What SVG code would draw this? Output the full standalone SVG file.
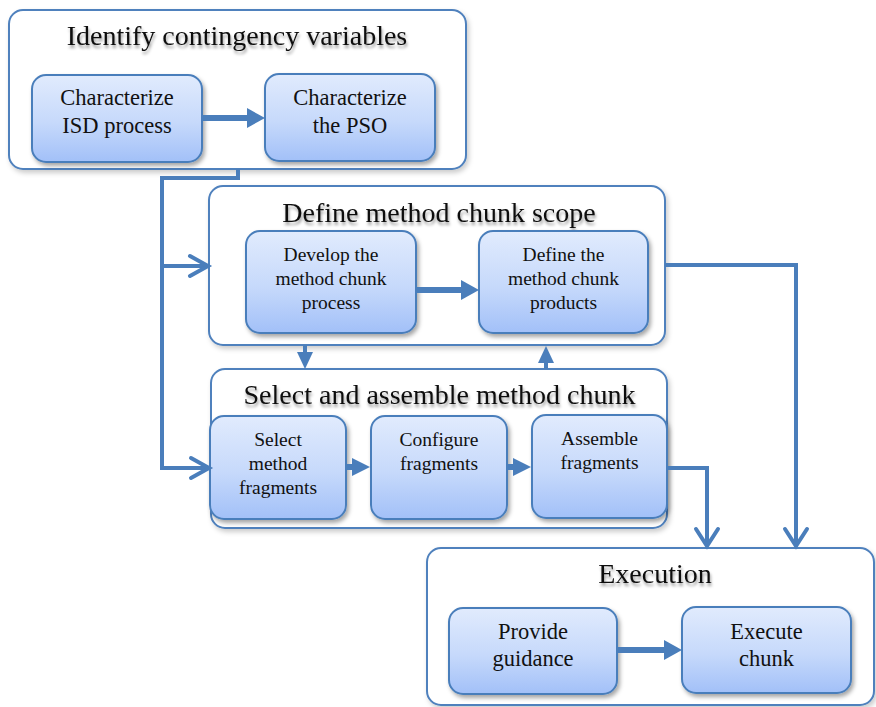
<svg xmlns="http://www.w3.org/2000/svg" width="876" height="707" viewBox="0 0 876 707">
  <defs>
    <linearGradient id="nodeFill" x1="0" y1="0" x2="0" y2="1">
      <stop offset="0" stop-color="#e1ebfd"/>
      <stop offset="0.55" stop-color="#c6d9fb"/>
      <stop offset="1" stop-color="#a2c0f8"/>
    </linearGradient>
    <filter id="nodeShadow" x="-10%" y="-10%" width="125%" height="130%">
      <feDropShadow dx="2" dy="3" stdDeviation="2" flood-color="#000" flood-opacity="0.35"/>
    </filter>
    <filter id="boxShadow" x="-5%" y="-5%" width="112%" height="115%">
      <feDropShadow dx="2" dy="3" stdDeviation="2.5" flood-color="#000" flood-opacity="0.2"/>
    </filter>
    <filter id="titleShadow" x="-5%" y="-30%" width="110%" height="170%">
      <feDropShadow dx="1" dy="3" stdDeviation="1.6" flood-color="#000" flood-opacity="0.4"/>
    </filter>
  </defs>
  <style>
    .box { fill: #ffffff; stroke: #4f81bd; stroke-width: 2; filter: url(#boxShadow); }
    .node { fill: url(#nodeFill); stroke: #4a7ebb; stroke-width: 2; filter: url(#nodeShadow); }
    .title { font-family: "Liberation Serif", "Times New Roman", serif; font-size: 28px; fill: #111; text-anchor: middle; filter: url(#titleShadow); }
    .label { font-family: "Liberation Serif", "Times New Roman", serif; fill: #111; text-anchor: middle; }
    .big { font-size: 22.5px; }
    .small { font-size: 19.5px; }
    .wire { fill: none; stroke: #4a7ebb; stroke-width: 4; stroke-linejoin: miter; stroke-linecap: butt; }
    .shaft { fill: none; stroke: #4a7ebb; stroke-width: 6; }
    .head { fill: #4a7ebb; }
    .chev { fill: none; stroke: #4a7ebb; stroke-width: 4; stroke-linecap: round; stroke-linejoin: miter; }
  </style>

  <!-- Phase: identify contingency variables -->
  <g id="identify-contingency-variables">
    <rect class="box" x="9" y="10" width="457" height="159" rx="14"/>
    <text class="title" x="237" y="45">Identify contingency variables</text>
  </g>
  <g id="characterize-isd-process">
    <rect class="node" x="32" y="75" width="170" height="87" rx="14"/>
    <text class="label big" x="117" y="105">Characterize</text>
    <text class="label big" x="117" y="133">ISD process</text>
  </g>
  <g id="characterize-pso">
    <rect class="node" x="265" y="74" width="170" height="87" rx="14"/>
    <text class="label big" x="350" y="105">Characterize</text>
    <text class="label big" x="350" y="133">the PSO</text>
  </g>

  <!-- Phase: define method chunk scope -->
  <g id="define-method-chunk-scope">
    <rect class="box" x="209" y="186" width="456" height="159" rx="14"/>
    <text class="title" x="439" y="222">Define method chunk scope</text>
  </g>
  <g id="develop-process">
    <rect class="node" x="246" y="231" width="170" height="102" rx="14"/>
    <text class="label small" x="331" y="261">Develop the</text>
    <text class="label small" x="331" y="285">method chunk</text>
    <text class="label small" x="331" y="309">process</text>
  </g>
  <g id="define-products">
    <rect class="node" x="479" y="231" width="169" height="102" rx="14"/>
    <text class="label small" x="563.5" y="261">Define the</text>
    <text class="label small" x="563.5" y="285">method chunk</text>
    <text class="label small" x="563.5" y="309">products</text>
  </g>

  <!-- Phase: select and assemble method chunk -->
  <g id="select-and-assemble">
    <rect class="box" x="211" y="369" width="456" height="159" rx="14"/>
    <text class="title" x="439.5" y="404">Select and assemble method chunk</text>
  </g>
  <g id="select-fragments">
    <rect class="node" x="210" y="416" width="136" height="103" rx="14"/>
    <text class="label small" x="278" y="446">Select</text>
    <text class="label small" x="278" y="470">method</text>
    <text class="label small" x="278" y="494">fragments</text>
  </g>
  <g id="configure-fragments">
    <rect class="node" x="371" y="416" width="136" height="103" rx="14"/>
    <text class="label small" x="439" y="446">Configure</text>
    <text class="label small" x="439" y="470">fragments</text>
  </g>
  <g id="assemble-fragments">
    <rect class="node" x="532" y="415" width="135" height="103" rx="14"/>
    <text class="label small" x="599.5" y="445">Assemble</text>
    <text class="label small" x="599.5" y="469">fragments</text>
  </g>

  <!-- Phase: execution -->
  <g id="execution">
    <rect class="box" x="427" y="548" width="447" height="157" rx="14"/>
    <text class="title" x="655" y="583">Execution</text>
  </g>
  <g id="provide-guidance">
    <rect class="node" x="449" y="608" width="168" height="86" rx="14"/>
    <text class="label big" x="533" y="639">Provide</text>
    <text class="label big" x="533" y="666">guidance</text>
  </g>
  <g id="execute-chunk">
    <rect class="node" x="682" y="607" width="169" height="86" rx="14"/>
    <text class="label big" x="766.5" y="639">Execute</text>
    <text class="label big" x="766.5" y="666">chunk</text>
  </g>

  <!-- Connectors -->
  <g id="connectors">
    <!-- block arrows inside phases -->
    <line class="shaft" x1="202" y1="118" x2="249" y2="118"/>
    <polygon class="head" points="247,108 265,118 247,128"/>
    <line class="shaft" x1="416" y1="290" x2="463" y2="290"/>
    <polygon class="head" points="461,280 479,290 461,300"/>
    <line class="shaft" x1="346" y1="467" x2="354" y2="467"/>
    <polygon class="head" points="352,458 370,467 352,476"/>
    <line class="shaft" x1="507" y1="467" x2="515" y2="467"/>
    <polygon class="head" points="513,458 531,467 513,476"/>
    <line class="shaft" x1="617" y1="650" x2="666" y2="650"/>
    <polygon class="head" points="664,640 682,650 664,660"/>

    <!-- between scope and assembly phases -->
    <line class="wire" x1="305" y1="345" x2="305" y2="356"/>
    <polygon class="head" points="297,352 305,369 313,352"/>
    <line class="wire" x1="546" y1="369" x2="546" y2="359"/>
    <polygon class="head" points="538,363 546,346 554,363"/>

    <!-- from contingency phase down the left side -->
    <polyline class="wire" points="238,169 238,178 162,178 162,468 207,468"/>
    <line class="wire" x1="162" y1="266" x2="207" y2="266"/>
    <polyline class="chev" points="190,256 208,266 190,276"/>
    <polyline class="chev" points="191,458 209,468 191,478"/>

    <!-- into execution -->
    <polyline class="wire" points="665,265 796,265 796,545"/>
    <polyline class="chev" points="785,529 796,546 807,529"/>
    <polyline class="wire" points="667,468 707,468 707,545"/>
    <polyline class="chev" points="696,529 707,546 718,529"/>
  </g>
</svg>
